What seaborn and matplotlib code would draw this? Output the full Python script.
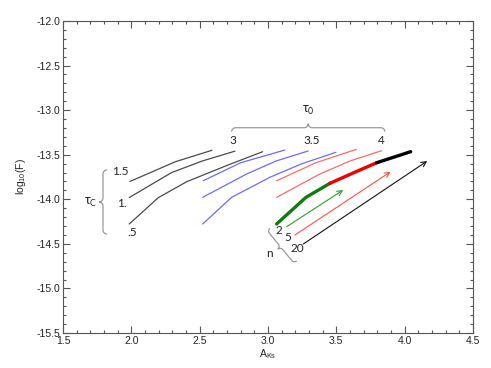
import numpy as np
import seaborn as sns
import matplotlib.pyplot as plt
from matplotlib.path import Path
from matplotlib.patches import PathPatch
from matplotlib.transforms import IdentityTransform
from matplotlib.ticker import MultipleLocator, FormatStrFormatter

# tau_0 = 3 (grey), one curve per tau_c = 1.5, 1., .5
grey_15_x = [1.99, 2.17, 2.32, 2.59]
grey_15_y = [-13.80, -13.68, -13.58, -13.45]
grey_10_x = [1.985, 2.295, 2.52, 2.758]
grey_10_y = [-13.98, -13.70, -13.57, -13.46]
grey_05_x = [1.985, 2.197, 2.405, 2.70, 2.961]
grey_05_y = [-14.277, -13.982, -13.803, -13.62, -13.466]

# tau_0 = 3.5 (blue)
blue_15_x = [2.526, 2.80, 3.124]
blue_15_y = [-13.792, -13.59, -13.447]
blue_10_x = [2.522, 2.844, 3.06, 3.294]
blue_10_y = [-13.978, -13.716, -13.57, -13.458]
blue_05_x = [2.522, 2.734, 3.014, 3.25, 3.497]
blue_05_y = [-14.277, -13.978, -13.753, -13.60, -13.473]

# tau_0 = 4 (red)
red_15_x = [3.063, 3.35, 3.648]
red_15_y = [-13.792, -13.59, -13.439]
red_10_x = [3.063, 3.380, 3.60, 3.831]
red_10_y = [-13.978, -13.716, -13.57, -13.455]
# tau_c = .5 curve split by n
thick_g_x = [3.063, 3.278, 3.453]
thick_g_y = [-14.277, -13.978, -13.821]
thick_r_x = [3.453, 3.63, 3.795]
thick_r_y = [-13.821, -13.70, -13.590]
thick_k_x = [3.795, 4.044]
thick_k_y = [-13.590, -13.466]

# arrows for n = 2, 5, 20
arrow_start = {'2': (3.136, -14.308), '5': (3.197, -14.401), '20': (3.258, -14.502)}
arrow_end = {'2': (3.550, -13.896), '5': (3.897, -13.691), '20': (4.165, -13.571)}
arrow_col = {'2': '#2ca02c', '5': '#ff5040', '20': '#111111'}

tau0_labels = ['3', '3.5', '4']
tau0_pos = [2.746, 3.322, 3.826]
tauc_labels = ['1.5', '1.', '.5']
tauc_pos = [(1.862, -13.683), (1.898, -14.042), (1.972, -14.375)]
n_labels = ['2', '5', '20']
n_pos = [(3.082, -14.353), (3.141, -14.431), (3.214, -14.550)]

sns.set_style('ticks')
plt.rcParams['font.family'] = ['Liberation Sans', 'DejaVu Sans']
plt.rcParams['axes.unicode_minus'] = False
plt.rcParams['mathtext.default'] = 'regular'

fig, ax = plt.subplots(figsize=(4.91, 3.68), dpi=100)
fig.subplots_adjust(left=0.1283, right=0.9633, bottom=0.0951, top=0.9429)

thin = 0.9
for xs, ys in [(grey_15_x, grey_15_y), (grey_10_x, grey_10_y), (grey_05_x, grey_05_y)]:
    sns.lineplot(x=xs, y=ys, sort=False, color='#4a4a4a', lw=thin, ax=ax)
for xs, ys in [(blue_15_x, blue_15_y), (blue_10_x, blue_10_y), (blue_05_x, blue_05_y)]:
    sns.lineplot(x=xs, y=ys, sort=False, color='#6a6aff', lw=thin, ax=ax)
for xs, ys in [(red_15_x, red_15_y), (red_10_x, red_10_y)]:
    sns.lineplot(x=xs, y=ys, sort=False, color='#ff6a6a', lw=thin, ax=ax)
sns.lineplot(x=thick_g_x, y=thick_g_y, sort=False, color='#127a12', lw=2.4, ax=ax)
sns.lineplot(x=thick_r_x, y=thick_r_y, sort=False, color='#ee0000', lw=2.4, ax=ax)
sns.lineplot(x=thick_k_x, y=thick_k_y, sort=False, color='black', lw=2.4, ax=ax)

for k in arrow_start:
    ax.annotate('', xy=arrow_end[k], xytext=arrow_start[k],
                arrowprops=dict(arrowstyle='->', color=arrow_col[k], lw=0.8,
                                mutation_scale=9, shrinkA=0, shrinkB=0))

ax.set_xlim(1.5, 4.5)
ax.set_ylim(-15.5, -12.0)
ax.xaxis.set_major_locator(MultipleLocator(0.5))
ax.xaxis.set_minor_locator(MultipleLocator(0.1))
ax.yaxis.set_major_locator(MultipleLocator(0.5))
ax.yaxis.set_minor_locator(MultipleLocator(0.1))
ax.xaxis.set_major_formatter(FormatStrFormatter('%.1f'))
ax.yaxis.set_major_formatter(FormatStrFormatter('%.1f'))
ax.tick_params(which='both', direction='in', top=True, right=True,
               color='#555555', labelsize=7.5, labelcolor='#222222', width=0.8)
ax.tick_params(which='major', length=5, pad=2)
ax.tick_params(which='minor', length=2.5)
for s in ax.spines.values():
    s.set_color('#555555')
    s.set_linewidth(0.8)
ax.set_xlabel('A$_{Ks}$', fontsize=7.5, labelpad=1)
ax.set_ylabel('log$_{10}$(F)', fontsize=7.5, labelpad=6)

ann = dict(family=['Lato', 'DejaVu Sans'], fontsize=8.5, color='#222222',
           ha='center', va='center')
for lab, x in zip(tau0_labels, tau0_pos):
    ax.text(x, -13.335, lab, **ann)
for lab, (x, y) in zip(tauc_labels, tauc_pos):
    ax.text(x, y, lab, **{**ann, 'ha': 'left'})
for lab, (x, y) in zip(n_labels, n_pos):
    ax.text(x, y, lab, **ann)
ax.text(3.294, -12.998, r'$\tau_{0}$', **{**ann, 'fontsize': 9})
ax.text(1.705, -14.04, r'$\tau_{C}$', **{**ann, 'fontsize': 9})
ax.text(3.009, -14.606, 'n', **ann)


def brace(p0, p1, depth):
    # curly brace between two data points, tip bulging to the left of p0->p1
    a = ax.transData.transform(p0)
    b = ax.transData.transform(p1)
    w = np.hypot(*(b - a))
    u = (b - a) / w
    nv = np.array([-u[1], u[0]])
    r = depth / 2.0
    loc = [(0, 0), (0, 0.55 * r), (0.45 * r, r), (r, r),
           (w / 2 - r, r),
           (w / 2 - 0.45 * r, r), (w / 2, 1.45 * r), (w / 2, 2 * r),
           (w / 2, 1.45 * r), (w / 2 + 0.45 * r, r), (w / 2 + r, r),
           (w - r, r),
           (w - 0.45 * r, r), (w, 0.55 * r), (w, 0)]
    verts = [a + s * u + t * nv for s, t in loc]
    codes = [Path.MOVETO] + [Path.CURVE4] * 3 + [Path.LINETO] + [Path.CURVE4] * 6 \
        + [Path.LINETO] + [Path.CURVE4] * 3
    ax.add_patch(PathPatch(Path(verts, codes), transform=IdentityTransform(),
                           fill=False, edgecolor='#999999', lw=0.9, clip_on=False))


brace((2.734, -13.242), (3.855, -13.242), 8)
brace((1.822, -14.39), (1.822, -13.67), 8)
brace((3.210, -14.692), (3.014, -14.326), 7)

fig.savefig('out.png', dpi=100)
